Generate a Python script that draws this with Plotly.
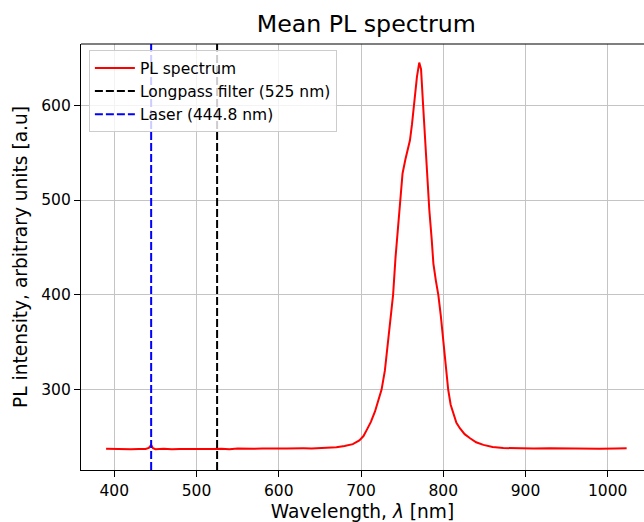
import plotly.graph_objects as go

# ---- data ----
wavelength_nm = [390, 400, 410, 420, 430, 438, 442, 444.8, 447, 450, 460, 470, 480, 490,
                 500, 510, 520, 530, 540, 550, 560, 570, 580, 590, 600, 610, 620, 630,
                 640, 650, 660, 670, 680, 690, 698, 703, 707, 712, 717, 721, 725, 729,
                 733, 736, 739, 742, 745, 747.5, 750.5, 754, 757, 759.5, 762, 765, 768,
                 770.8, 773, 775.5, 778, 780, 783, 786, 788, 791, 794, 797, 800, 803,
                 806, 809, 812, 816, 820.4, 826, 832.6, 840, 848.8, 860, 873, 890, 910,
                 930, 950, 970, 990, 1010, 1023]
pl_intensity = [237.5, 237.2, 237.6, 237.0, 237.4, 237.3, 238.5, 241.5, 238.2, 237.1, 237.5,
                237.0, 237.4, 237.2, 237.6, 237.1, 237.3, 237.5, 237.2, 237.8, 237.4, 237.6,
                237.9, 237.5, 237.8, 238.0, 237.7, 238.1, 238.0, 238.3, 238.6, 239.3, 240.5,
                242.5, 246.5, 251, 257.5, 266, 277, 288, 300, 320, 352, 375, 400, 440, 470,
                500, 528, 543, 553, 563, 580, 605, 630, 645, 638, 600, 560, 528, 490, 458,
                433, 415, 400, 378, 352, 325, 300, 284, 275, 265, 259, 253, 248.7, 244.5,
                241.7, 239.5, 238.4, 238.0, 237.8, 238.1, 237.7, 237.9, 237.6, 237.9, 238.2]

longpass_nm = 525
laser_nm = 444.8

x_range = [359.5, 1044.1]
y_range = [215.2, 664.6]
x_ticks = [400, 500, 600, 700, 800, 900, 1000]
y_ticks = [300, 400, 500, 600]

FONT = "DejaVu Sans"

fig = go.Figure()
fig.add_trace(go.Scatter(x=wavelength_nm, y=pl_intensity, mode="lines",
                         name="PL spectrum",
                         line=dict(color="red", width=2)))
fig.add_trace(go.Scatter(x=[longpass_nm, longpass_nm], y=y_range, mode="lines",
                         name="Longpass filter (525 nm)",
                         line=dict(color="black", width=2, dash="8px,3px")))
fig.add_trace(go.Scatter(x=[laser_nm, laser_nm], y=y_range, mode="lines",
                         name="Laser (444.8 nm)",
                         line=dict(color="blue", width=2, dash="8px,3px")))

fig.update_layout(
    width=644, height=522,
    margin=dict(l=81, r=0, t=44, b=52),
    paper_bgcolor="white", plot_bgcolor="white",
    font=dict(family=FONT, color="black", size=15.5),
    title=dict(text="Mean PL spectrum", x=(366.3 - 81) / 563, xref="paper",
               xanchor="center", y=1 - 32 / 522, yanchor="bottom",
               font=dict(size=23.7, family=FONT)),
    showlegend=True,
    legend=dict(x=0.014, y=0.985, xanchor="left", yanchor="top",
                bgcolor="rgba(255,255,255,0.8)", bordercolor="#cccccc", borderwidth=1,
                font=dict(size=15.5, family=FONT), tracegroupgap=0, itemwidth=40),
)
fig.update_xaxes(range=x_range, tickvals=x_ticks, showgrid=True, gridcolor="#c4c4c4",
                 gridwidth=1, showline=True, linecolor="black", linewidth=1.2,
                 mirror=False, ticks="outside", ticklen=6, tickcolor="black",
                 tickfont=dict(size=15.5), zeroline=False,
                 title=dict(text="Wavelength, <i>λ</i> [nm]", font=dict(size=18.6), standoff=8))
fig.update_yaxes(range=y_range, tickvals=y_ticks, showgrid=True, gridcolor="#c4c4c4",
                 gridwidth=1, showline=True, linecolor="black", linewidth=1.2,
                 mirror=False, ticks="outside", ticklen=6, tickcolor="black",
                 tickfont=dict(size=15.5), zeroline=False,
                 title=dict(text="PL intensity, arbitrary units [a.u]", font=dict(size=18.6),
                            standoff=8))
# top spine
fig.add_shape(type="line", xref="paper", yref="paper", x0=0, x1=1, y0=1, y1=1,
              line=dict(color="black", width=1.2))

fig.write_html("out.html")
